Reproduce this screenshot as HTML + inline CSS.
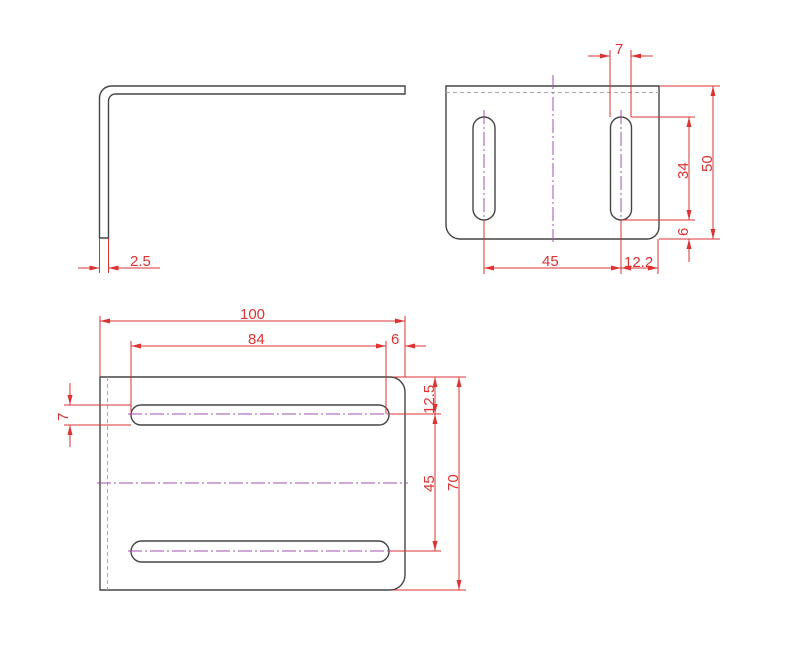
<!DOCTYPE html>
<html><head><meta charset="utf-8"><style>html,body{margin:0;padding:0;background:#fff}svg{display:block}</style></head><body>
<svg width="805" height="660" viewBox="0 0 805 660" xmlns="http://www.w3.org/2000/svg">
<defs>
<marker id="a" viewBox="0 0 10 6" refX="10" refY="3" markerWidth="10" markerHeight="6" markerUnits="userSpaceOnUse" orient="auto-start-reverse"><path d="M0,0.5 L10,3 L0,5.5 z" fill="#d33"/></marker>
</defs>
<g fill="none" stroke="#444" stroke-width="1.4">
<path d="M99.5,238 V98 A12,12 0 0 1 111.5,86 H405 V94 H116 A7,7 0 0 0 108.5,101 V238 Z"/>
<path d="M446,86 H659 V227 A12,12 0 0 1 647,239 H460 A14,14 0 0 1 446,225 Z"/>
<rect x="473" y="117" width="22" height="103" rx="11"/>
<rect x="610.5" y="117" width="21" height="103" rx="10.5"/>
<path d="M100,377 H390 A15,15 0 0 1 405,392 V575 A15,15 0 0 1 390,590 H100 Z"/>
<rect x="131" y="405" width="258" height="20" rx="10"/>
<rect x="131" y="541" width="258" height="21" rx="10.5"/>
</g>
<g fill="none" stroke="#aaa" stroke-width="1" stroke-dasharray="4,3">
<line x1="446" y1="92.5" x2="659" y2="92.5"/>
<line x1="107.5" y1="377" x2="107.5" y2="590"/>
</g>
<g fill="none" stroke="#a050b0" stroke-width="1" stroke-dasharray="14,3,2,3">
<line x1="553" y1="75" x2="553" y2="242"/>
<line x1="484" y1="110" x2="484" y2="230"/>
<line x1="621" y1="110" x2="621" y2="230"/>
<line x1="97" y1="483" x2="408" y2="483"/>
<line x1="128" y1="414" x2="392" y2="414"/>
<line x1="128" y1="551" x2="392" y2="551"/>
</g>
<g fill="none" stroke="#d33" stroke-width="1">
<line x1="99.5" y1="238" x2="99.5" y2="273"/><line x1="108.5" y1="238" x2="108.5" y2="273"/>
<line x1="78" y1="268" x2="99.5" y2="268" marker-end="url(#a)"/>
<line x1="160" y1="268" x2="108.5" y2="268" marker-end="url(#a)"/>
<line x1="610" y1="50" x2="610" y2="117"/><line x1="631" y1="50" x2="631" y2="117"/>
<line x1="588" y1="56" x2="610" y2="56" marker-end="url(#a)"/>
<line x1="653" y1="56" x2="631" y2="56" marker-end="url(#a)"/>
<line x1="659" y1="86" x2="720" y2="86"/><line x1="659" y1="239" x2="720" y2="239"/>
<line x1="713" y1="86" x2="713" y2="239" marker-start="url(#a)" marker-end="url(#a)"/>
<line x1="631" y1="117" x2="695" y2="117"/><line x1="621" y1="220" x2="695" y2="220"/>
<line x1="689" y1="117" x2="689" y2="220" marker-start="url(#a)" marker-end="url(#a)"/>
<line x1="689" y1="262" x2="689" y2="239" marker-end="url(#a)"/>
<line x1="484" y1="220" x2="484" y2="274"/><line x1="621" y1="220" x2="621" y2="274"/><line x1="658" y1="239" x2="658" y2="274"/>
<line x1="484" y1="268" x2="621" y2="268" marker-start="url(#a)" marker-end="url(#a)"/>
<line x1="621" y1="268" x2="658" y2="268" marker-start="url(#a)" marker-end="url(#a)"/>
<line x1="100" y1="316" x2="100" y2="377"/><line x1="405" y1="316" x2="405" y2="377"/>
<line x1="100" y1="321" x2="405" y2="321" marker-start="url(#a)" marker-end="url(#a)"/>
<line x1="131" y1="341" x2="131" y2="414"/><line x1="386" y1="341" x2="386" y2="414"/>
<line x1="131" y1="346" x2="386" y2="346" marker-start="url(#a)" marker-end="url(#a)"/>
<line x1="426" y1="346" x2="405" y2="346" marker-end="url(#a)"/>
<line x1="393" y1="377" x2="466" y2="377"/><line x1="393" y1="590" x2="466" y2="590"/>
<line x1="459" y1="377" x2="459" y2="590" marker-start="url(#a)" marker-end="url(#a)"/>
<line x1="389" y1="414" x2="441" y2="414"/><line x1="389" y1="551" x2="441" y2="551"/>
<line x1="435" y1="377" x2="435" y2="414" marker-start="url(#a)" marker-end="url(#a)"/>
<line x1="435" y1="414" x2="435" y2="551" marker-start="url(#a)" marker-end="url(#a)"/>
<line x1="64" y1="405" x2="131" y2="405"/><line x1="64" y1="425" x2="131" y2="425"/>
<line x1="70" y1="383" x2="70" y2="405" marker-end="url(#a)"/>
<line x1="70" y1="447" x2="70" y2="425" marker-end="url(#a)"/>
</g>
<g fill="#d33" font-family="Liberation Sans, sans-serif" font-size="15">
<text x="130" y="266">2.5</text>
<text x="615" y="54">7</text>
<text x="542" y="266">45</text>
<text x="624" y="267">12.2</text>
<text x="240" y="319">100</text>
<text x="248" y="344">84</text>
<text x="391" y="344">6</text>
<text transform="translate(712,172) rotate(-90)">50</text>
<text transform="translate(688,179) rotate(-90)">34</text>
<text transform="translate(688,236) rotate(-90)">6</text>
<text transform="translate(458,491) rotate(-90)">70</text>
<text transform="translate(434,492) rotate(-90)">45</text>
<text transform="translate(434,414) rotate(-90)">12.5</text>
<text transform="translate(68,421) rotate(-90)">7</text>
</g>
</svg>
</body></html>
